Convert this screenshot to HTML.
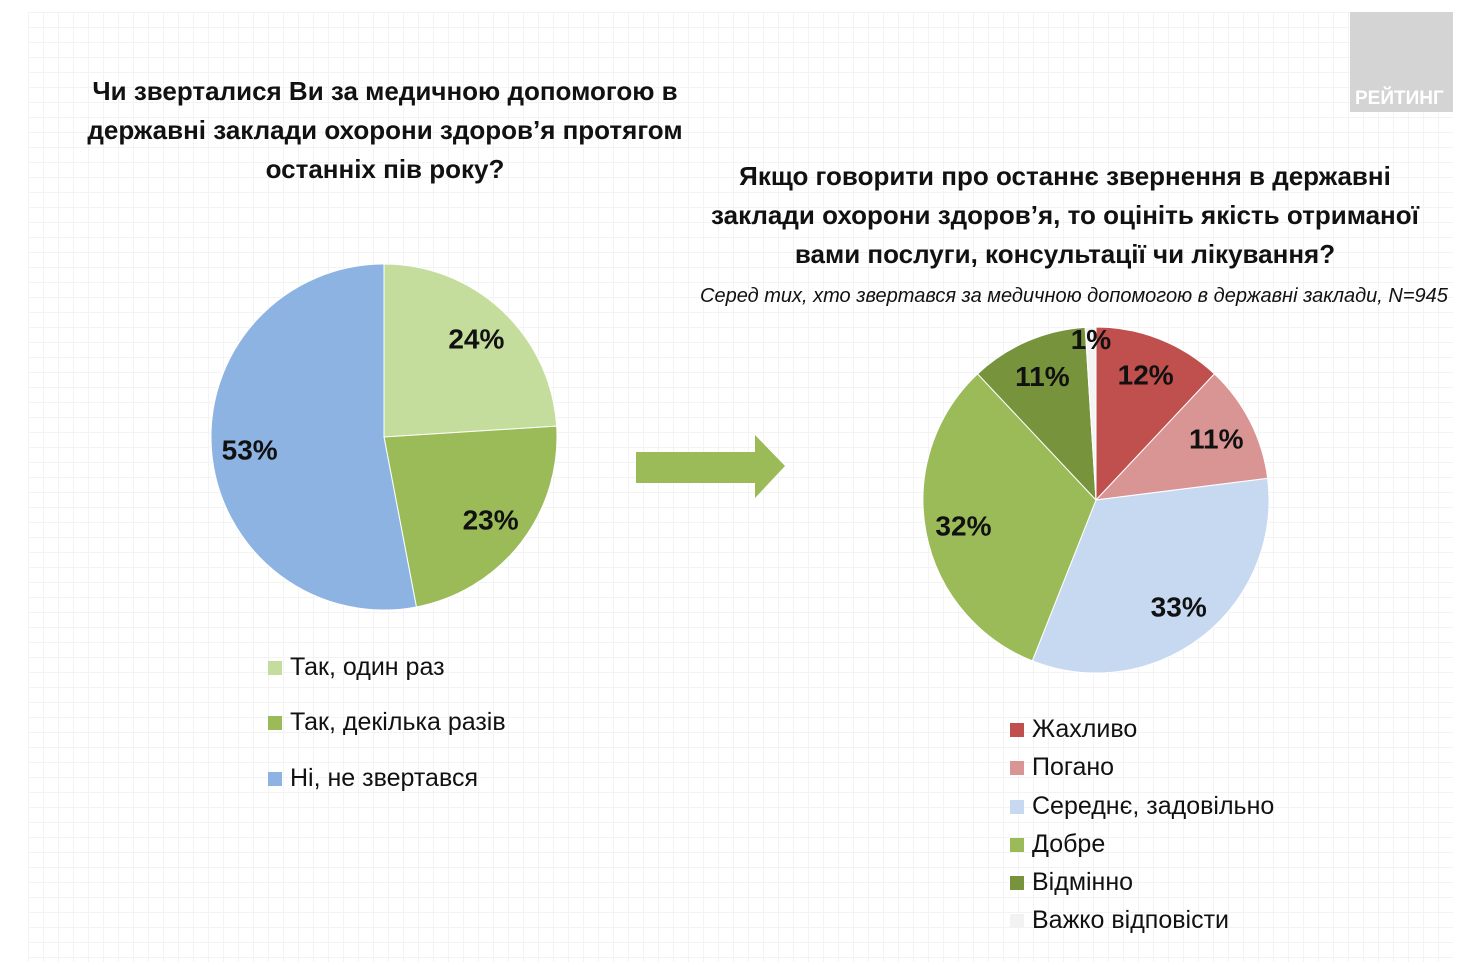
<!DOCTYPE html>
<html><head><meta charset="utf-8">
<style>
html,body{margin:0;padding:0}
body{width:1470px;height:965px;position:relative;background:#fff;overflow:hidden;font-family:"Liberation Sans Narrow","Liberation Sans",sans-serif;color:#111}
.grid{position:absolute;left:28px;top:12px;width:1425px;height:950px;
background-image:linear-gradient(#eeeeee 1px,transparent 1px),linear-gradient(90deg,#eeeeee 1px,transparent 1px);background-size:15px 15px;opacity:.7}
.t{position:absolute;font-weight:bold;font-size:26px;text-align:center;line-height:39px}
.leg{position:absolute;font-size:25px;display:flex;align-items:center}
.leg i{display:inline-block;width:14px;height:14px;margin-right:8px}
</style></head><body>
<div class="grid"></div>
<div style="position:absolute;left:1350px;top:12px;width:103px;height:100px;background:#d4d4d4"><span style="position:absolute;left:5px;top:76px;color:#fff;font-weight:bold;font-size:19px;font-family:'Liberation Sans',sans-serif">РЕЙТИНГ</span></div>
<div class="t" style="left:60px;top:72px;width:650px">Чи зверталися Ви за медичною допомогою в<br>державні заклади охорони здоров’я протягом<br>останніх пів року?</div>
<div class="t" style="left:680px;top:157px;width:770px">Якщо говорити про останнє звернення в державні<br>заклади охорони здоров’я, то оцініть якість отриманої<br>вами послуги, консультації чи лікування?</div>
<div style="position:absolute;left:700px;top:285px;font-style:italic;font-size:20px;white-space:nowrap">Серед тих, хто звертався за медичною допомогою в державні заклади, N=945</div>
<svg id="svg" width="1470" height="965" style="position:absolute;left:0;top:0">
<polygon points="636,452 755,452 755,435 785,466 755,498 755,483 636,483" fill="#9bbb59"/>
</svg>
<div class="leg" style="left:268px;top:653px"><i style="background:#c4dd9c"></i>Так, один раз</div>
<div class="leg" style="left:268px;top:708px"><i style="background:#9bbb59"></i>Так, декілька разів</div>
<div class="leg" style="left:268px;top:764px"><i style="background:#8db3e2"></i>Ні, не звертався</div>
<div class="leg" style="left:1010px;top:715px"><i style="background:#c0504d"></i>Жахливо</div>
<div class="leg" style="left:1010px;top:753px"><i style="background:#d99594"></i>Погано</div>
<div class="leg" style="left:1010px;top:792px"><i style="background:#c6d9f1"></i>Середнє, задовільно</div>
<div class="leg" style="left:1010px;top:830px"><i style="background:#9bbb59"></i>Добре</div>
<div class="leg" style="left:1010px;top:868px"><i style="background:#77933c"></i>Відмінно</div>
<div class="leg" style="left:1010px;top:906px"><i style="background:#f2f2f2"></i>Важко відповісти</div>
<script>
const leftCategories=["Так, один раз","Так, декілька разів","Ні, не звертався"];
const leftValues=[24,23,53];
const leftColors=["#c4dd9c","#9bbb59","#8db3e2"];
const rightCategories=["Жахливо","Погано","Середнє, задовільно","Добре","Відмінно","Важко відповісти"];
const rightValues=[12,11,33,32,11,1];
const rightColors=["#c0504d","#d99594","#c6d9f1","#9bbb59","#77933c","#f4f4f4"];
const svg=document.getElementById('svg');
const NS="http://www.w3.org/2000/svg";
function pie(cx,cy,r,vals,cols,cats,prefix){
  const tot=vals.reduce((a,b)=>a+b,0);let acc=0;
  vals.forEach((v,i)=>{
    const a0=acc/tot*2*Math.PI;acc+=v;const a1=acc/tot*2*Math.PI;
    const x0=cx+r*Math.sin(a0),y0=cy-r*Math.cos(a0),x1=cx+r*Math.sin(a1),y1=cy-r*Math.cos(a1);
    const p=document.createElementNS(NS,'path');
    p.setAttribute('d',`M${cx},${cy}L${x0},${y0}A${r},${r} 0 ${(a1-a0)>Math.PI?1:0} 1 ${x1},${y1}Z`);
    p.setAttribute('fill',cols[i]);p.setAttribute('stroke','#fff');p.setAttribute('stroke-width','1');
    
    
    svg.appendChild(p);
    const am=(a0+a1)/2,f=v/tot<0.03?0.93:0.78;
    const t=document.createElementNS(NS,'text');
    t.setAttribute('x',cx+r*f*Math.sin(am));t.setAttribute('y',cy-r*f*Math.cos(am)+10);
    t.setAttribute('text-anchor','middle');t.setAttribute('font-size','28');t.setAttribute('font-weight','bold');
    t.setAttribute('font-family','"Liberation Sans Narrow","Liberation Sans",sans-serif');t.setAttribute('fill','#111');
    t.textContent=v+'%';
    
    
    svg.appendChild(t);
  });
}
pie(384,437,173,leftValues,leftColors,leftCategories,'left');
pie(1096,500,173,rightValues,rightColors,rightCategories,'right');
</script>
</body></html>
